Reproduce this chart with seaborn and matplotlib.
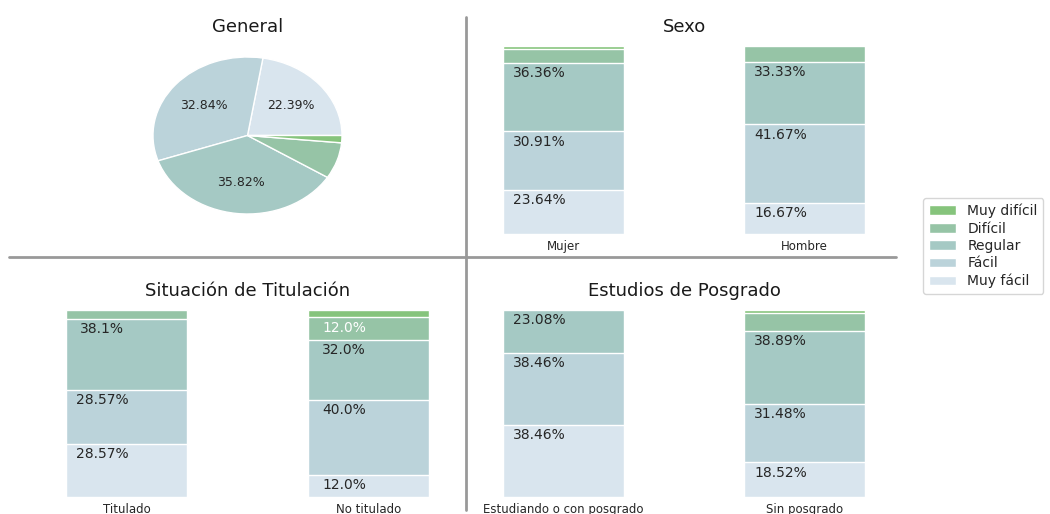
import numpy as np
import pandas as pd
import matplotlib
matplotlib.use("Agg")
import matplotlib.pyplot as plt
from matplotlib.patches import Patch
from matplotlib.lines import Line2D
import seaborn as sns

# Datos (porcentajes por nivel de dificultad)
levels = ["Muy fácil", "Fácil", "Regular", "Difícil", "Muy difícil"]
level_colors = ["#d9e5ee", "#bbd3da", "#a5c9c4", "#96c4a6", "#86c47c"]

general_pct = [22.39, 32.84, 35.82, 7.46, 1.49]

sexo_cats = ["Mujer", "Hombre"]
mujer = [23.64, 30.91, 36.36, 7.27, 1.82]
hombre = [16.67, 41.67, 33.33, 8.33, 0.0]

titulacion_cats = ["Titulado", "No titulado"]
titulado = [28.57, 28.57, 38.1, 4.76, 0.0]
no_titulado = [12.0, 40.0, 32.0, 12.0, 4.0]

posgrado_cats = ["Estudiando o con posgrado", "Sin posgrado"]
con_posgrado = [38.46, 38.46, 23.08, 0.0, 0.0]
sin_posgrado = [18.52, 31.48, 38.89, 9.26, 1.85]

W, H = 1050, 514
text_color = "#262626"


def px_rect(left, top, right, bottom):
    return [left / W, 1 - bottom / H, (right - left) / W, (bottom - top) / H]


def stacked(ax, cats, rows, title):
    records = []
    for cat, row in zip(cats, rows):
        cum = np.cumsum(row)
        for lvl, c in zip(levels, cum):
            records.append({"cat": cat, "level": lvl, "cum": c})
    df = pd.DataFrame(records)
    # draw from the top level down so the shorter bars sit in front
    for i in range(len(levels) - 1, -1, -1):
        sub = df[df["level"] == levels[i]]
        sns.barplot(data=sub, x="cat", y="cum", order=cats, color=level_colors[i],
                    width=0.5, saturation=1, edgecolor="white", linewidth=1,
                    errorbar=None, ax=ax)
    for j, row in enumerate(rows):
        top = 0
        for i, v in enumerate(row):
            top += v
            if v >= 10:
                ax.text(j - 0.1, top - 5.5, f"{v}%", ha="center", va="center",
                        fontsize=10, color="white" if i == 3 else text_color)
    ax.set_xlim(-0.25, 1.25)
    ax.set_ylim(0, 100)
    ax.set_xlabel("")
    ax.set_ylabel("")
    ax.set_yticks([])
    ax.tick_params(axis="x", length=0, pad=4, labelsize=8.5, labelcolor=text_color)
    sns.despine(ax=ax, left=True, bottom=True)
    ax.set_title(title, fontsize=13, pad=10, color="#1a1a1a")


sns.set_style("white")
fig = plt.figure(figsize=(10.5, 5.14), dpi=100)

# General (pie)
ax_pie = fig.add_axes(px_rect(153, 57, 342, 214))
ax_pie.pie(general_pct, colors=level_colors, startangle=0,
           autopct=lambda p: f"{p:.2f}%" if p >= 10 else "",
           wedgeprops=dict(edgecolor="white", linewidth=1),
           textprops=dict(fontsize=9, color=text_color))
ax_pie.set_aspect("auto")
ax_pie.set_xlim(-1, 1)
ax_pie.set_ylim(-1, 1)
ax_pie.set_title("General", fontsize=13, pad=18, color="#1a1a1a")

ax_sexo = fig.add_axes(px_rect(503, 46, 865, 234))
stacked(ax_sexo, sexo_cats, [mujer, hombre], "Sexo")

ax_tit = fig.add_axes(px_rect(66, 310, 429, 497))
stacked(ax_tit, titulacion_cats, [titulado, no_titulado], "Situación de Titulación")

ax_pos = fig.add_axes(px_rect(503, 310, 865, 497))
stacked(ax_pos, posgrado_cats, [con_posgrado, sin_posgrado], "Estudios de Posgrado")

# separadores
fig.add_artist(Line2D([466 / W, 466 / W], [1 - 17 / H, 1 - 510 / H], color="#999999", lw=2))
fig.add_artist(Line2D([9 / W, 896 / W], [1 - 256.5 / H, 1 - 256.5 / H], color="#999999", lw=2))

handles = [Patch(facecolor=level_colors[i], label=levels[i]) for i in range(len(levels) - 1, -1, -1)]
fig.legend(handles=handles, loc="upper left", bbox_to_anchor=(923 / W, 1 - 198 / H),
           borderaxespad=0, fontsize=10, labelspacing=0.25, frameon=True)

fig.savefig("out.png", dpi=100)
